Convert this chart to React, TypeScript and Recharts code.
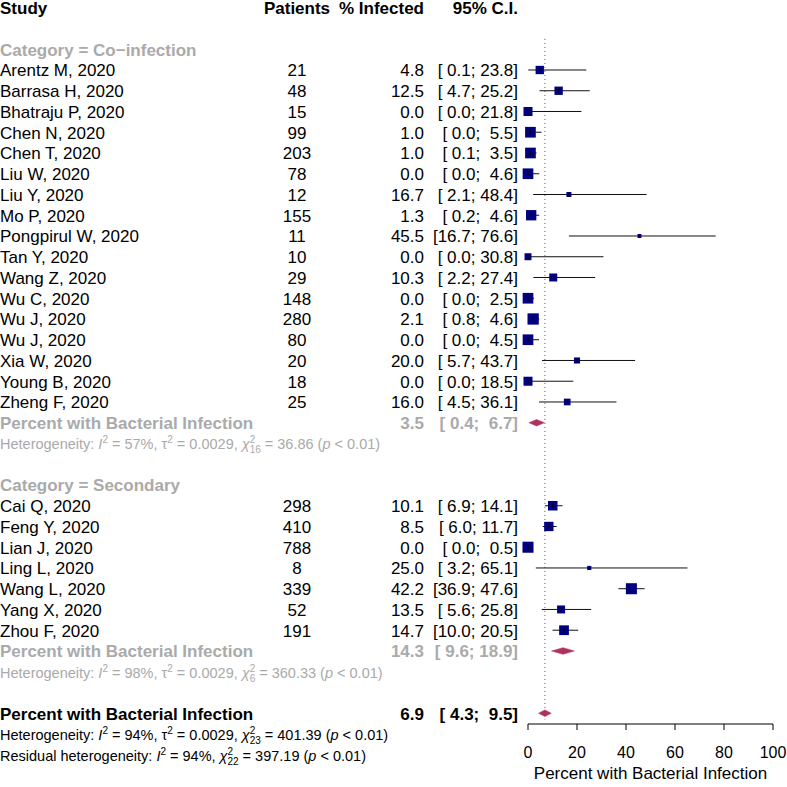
import {
  ReferenceArea,
  ReferenceLine,
  Scatter,
  ScatterChart,
  XAxis,
  YAxis,
  ZAxis,
} from 'recharts';

const FONT = '"Liberation Sans", Arial, Helvetica, sans-serif';
const GREY = '#aaaaaa';
const NAVY = '#000080';
const MAROON = '#b03060';
const ROW_PX = 20.75;

// Category = Co-infection
const coStudies = [
  'Arentz M, 2020', 'Barrasa H, 2020', 'Bhatraju P, 2020', 'Chen N, 2020',
  'Chen T, 2020', 'Liu W, 2020', 'Liu Y, 2020', 'Mo P, 2020',
  'Pongpirul W, 2020', 'Tan Y, 2020', 'Wang Z, 2020', 'Wu C, 2020',
  'Wu J, 2020', 'Wu J, 2020', 'Xia W, 2020', 'Young B, 2020', 'Zheng F, 2020',
];
const coPatients = [21, 48, 15, 99, 203, 78, 12, 155, 11, 10, 29, 148, 280, 80, 20, 18, 25];
const coPercent = [4.8, 12.5, 0.0, 1.0, 1.0, 0.0, 16.7, 1.3, 45.5, 0.0, 10.3, 0.0, 2.1, 0.0, 20.0, 0.0, 16.0];
const coLower = [0.1, 4.7, 0.0, 0.0, 0.1, 0.0, 2.1, 0.2, 16.7, 0.0, 2.2, 0.0, 0.8, 0.0, 5.7, 0.0, 4.5];
const coUpper = [23.8, 25.2, 21.8, 5.5, 3.5, 4.6, 48.4, 4.6, 76.6, 30.8, 27.4, 2.5, 4.6, 4.5, 43.7, 18.5, 36.1];
const coWeight = [3.6, 3.6, 4.2, 5.9, 5.9, 5.9, 1.3, 5.5, 0.8, 2.5, 3.3, 5.9, 6.6, 5.9, 1.9, 4.2, 2.3];
const coSummary = [3.5, 0.4, 6.7];

// Category = Secondary
const secStudies = [
  'Cai Q, 2020', 'Feng Y, 2020', 'Lian J, 2020', 'Ling L, 2020',
  'Wang L, 2020', 'Yang X, 2020', 'Zhou F, 2020',
];
const secPatients = [298, 410, 788, 8, 339, 52, 191];
const secPercent = [10.1, 8.5, 0.0, 25.0, 42.2, 13.5, 14.7];
const secLower = [6.9, 6.0, 0.0, 3.2, 36.9, 5.6, 10.0];
const secUpper = [14.1, 11.7, 0.5, 65.1, 47.6, 25.8, 20.5];
const secWeight = [4.7, 4.5, 6.3, 0.9, 6.3, 3.3, 4.9];
const secSummary = [14.3, 9.6, 18.9];

const overall = [6.9, 4.3, 9.5];

// heterogeneity: co-infection, secondary, overall
const hetI2 = [57, 98, 94];
const hetTau2 = ['0.0029', '0.0029', '0.0029'];
const hetDf = [16, 6, 23];
const hetQ = ['36.86', '360.33', '401.39'];
const residI2 = 94;
const residDf = 22;
const residQ = '397.19';

const xTicks = [0, 20, 40, 60, 80, 100];
const SUMMARY_LABEL = 'Percent with Bacterial Infection';

type Row = {
  x: number;
  y: number;
  kind: 'header' | 'group' | 'study' | 'summary' | 'het' | 'overall';
  label?: string;
  n?: number;
  est?: number;
  lo?: number;
  hi?: number;
  w?: number;
  het?: number;
};

const groups = [
  { label: 'Category = Co\u2212infection', names: coStudies, n: coPatients, est: coPercent, lo: coLower, hi: coUpper, w: coWeight, sum: coSummary, het: 0 },
  { label: 'Category = Secondary', names: secStudies, n: secPatients, est: secPercent, lo: secLower, hi: secUpper, w: secWeight, sum: secSummary, het: 1 },
];

const rows: Row[] = [{ x: 0, y: 0, kind: 'header' }];
let r = 2;
groups.forEach((g) => {
  rows.push({ x: 0, y: r++, kind: 'group', label: g.label });
  g.names.forEach((name, i) => {
    rows.push({
      x: g.est[i], y: r++, kind: 'study', label: name, n: g.n[i],
      est: g.est[i], lo: g.lo[i], hi: g.hi[i], w: g.w[i],
    });
  });
  rows.push({ x: g.sum[0], y: r++, kind: 'summary', label: SUMMARY_LABEL, est: g.sum[0], lo: g.sum[1], hi: g.sum[2] });
  rows.push({ x: 0, y: r++, kind: 'het', het: g.het });
  r++;
});
rows.push({ x: overall[0], y: r, kind: 'overall', label: SUMMARY_LABEL, est: overall[0], lo: overall[1], hi: overall[2], het: 2 });

const studyRows = rows.filter((d) => d.kind === 'study');
const diamondRows = rows.filter((d) => d.kind === 'summary' || d.kind === 'overall');

const fmt = (v: number) => v.toFixed(1);
const ciText = (lo: number, hi: number) => `[${fmt(lo).padStart(4)}; ${fmt(hi).padStart(4)}]`;

function HetLine({ y, prefix, i2, tau2, df, q, color }: {
  y: number; prefix: string; i2: number; tau2?: string; df: number; q: string; color: string;
}) {
  return (
    <text x={0} y={y} fontSize={14.5} fill={color} fontFamily={FONT} style={{ whiteSpace: 'pre' }}>
      <tspan>{prefix}</tspan>
      <tspan fontStyle="italic">I</tspan>
      <tspan fontSize={10} dy={-6}>2</tspan>
      <tspan dy={6}>{` = ${i2}%, `}</tspan>
      {tau2 !== undefined && (
        <>
          <tspan>τ</tspan>
          <tspan fontSize={10} dy={-6}>2</tspan>
          <tspan dy={6}>{` = ${tau2}, `}</tspan>
        </>
      )}
      <tspan fontStyle="italic">χ</tspan>
      <tspan fontSize={10} dy={-6}>2</tspan>
      <tspan fontSize={10} dx={-5.6} dy={10}>{String(df)}</tspan>
      <tspan dy={-4}>{` = ${q} (`}</tspan>
      <tspan fontStyle="italic">p</tspan>
      <tspan>{' < 0.01)'}</tspan>
    </text>
  );
}

function RowText(props: any) {
  const { cy, payload: p } = props;
  const base = cy + 6.5;
  const txt = (x: number, s: string, anchor: 'start' | 'middle' | 'end', color = '#000', bold = false) => (
    <text x={x} y={base} textAnchor={anchor} fill={color} fontSize={17} fontFamily={FONT}
      fontWeight={bold ? 'bold' : 'normal'} style={{ whiteSpace: 'pre' }}>
      {s}
    </text>
  );
  if (p.kind === 'header') {
    return (
      <g>
        {txt(0, 'Study', 'start', '#000', true)}
        {txt(297, 'Patients', 'middle', '#000', true)}
        {txt(424, '% Infected', 'end', '#000', true)}
        {txt(518, '95% C.I.', 'end', '#000', true)}
      </g>
    );
  }
  if (p.kind === 'group') return <g>{txt(0, p.label, 'start', GREY, true)}</g>;
  if (p.kind === 'study') {
    return (
      <g>
        {txt(0, p.label, 'start')}
        {txt(297, String(p.n), 'middle')}
        {txt(424, fmt(p.est), 'end')}
        {txt(518, ciText(p.lo, p.hi), 'end')}
      </g>
    );
  }
  if (p.kind === 'summary') {
    return (
      <g>
        {txt(0, p.label, 'start', GREY, true)}
        {txt(424, fmt(p.est), 'end', GREY, true)}
        {txt(518, ciText(p.lo, p.hi), 'end', GREY, true)}
      </g>
    );
  }
  if (p.kind === 'het') {
    const i = p.het;
    return (
      <HetLine y={cy + 6} prefix="Heterogeneity: " i2={hetI2[i]} tau2={hetTau2[i]} df={hetDf[i]} q={hetQ[i]} color={GREY} />
    );
  }
  // overall row, followed by its heterogeneity lines
  const i = p.het;
  return (
    <g>
      {txt(0, p.label, 'start', '#000', true)}
      {txt(424, fmt(p.est), 'end', '#000', true)}
      {txt(518, ciText(p.lo, p.hi), 'end', '#000', true)}
      <HetLine y={cy + ROW_PX + 6} prefix="Heterogeneity: " i2={hetI2[i]} tau2={hetTau2[i]} df={hetDf[i]} q={hetQ[i]} color="#000" />
      <HetLine y={cy + 2 * ROW_PX + 6} prefix="Residual heterogeneity: " i2={residI2} df={residDf} q={residQ} color="#000" />
    </g>
  );
}

function Box(props: any) {
  const { cx, cy, size, payload } = props;
  const s = Math.sqrt(size ?? payload.w * 19.34);
  return (
    <g>
      <rect x={cx - s / 2} y={cy - s / 2} width={s} height={s} fill={NAVY} />
      <line x1={cx} x2={cx} y1={cy - 2} y2={cy + 2} stroke="#000" />
    </g>
  );
}

function Diamond(props: any) {
  const { x, y, width, height, frac } = props;
  const mx = x + width * frac;
  const my = y + height / 2;
  return (
    <polygon
      points={`${x},${my} ${mx},${y} ${x + width},${my} ${mx},${y + height}`}
      fill={MAROON}
      stroke={MAROON}
      strokeWidth={0.5}
    />
  );
}

export default function App() {
  return (
    <div style={{ position: 'absolute', left: 0, top: 0, background: '#fff' }}>
      <ScatterChart width={787} height={787} margin={{ top: 0, right: 14, bottom: 0, left: 528 }}>
        <XAxis
          type="number"
          dataKey="x"
          domain={[0, 100]}
          ticks={xTicks}
          tickSize={6}
          tickMargin={17}
          height={63}
          stroke="#000"
          tick={{ fill: '#000', fontSize: 16, fontFamily: FONT }}
          label={{ value: 'Percent with Bacterial Infection', position: 'insideBottom', offset: 8, fill: '#000', fontSize: 17, fontFamily: FONT }}
        />
        <YAxis type="number" dataKey="y" domain={[-0.3735, 34.52]} reversed hide />
        <ZAxis type="number" dataKey="w" domain={[0, 7]} range={[0, 135.4]} />
        <ReferenceLine
          segment={[{ x: overall[0], y: 1.5 }, { x: overall[0], y: 34.3 }]}
          stroke="#555"
          strokeDasharray="1 3"
        />
        <Scatter data={rows} shape={RowText} isAnimationActive={false} />
        <Scatter data={studyRows} shape={Box} isAnimationActive={false} />
        {studyRows.map((s, i) => (
          <ReferenceLine
            key={`ci${i}`}
            segment={[{ x: s.lo as number, y: s.y }, { x: s.hi as number, y: s.y }]}
            stroke="#111"
            strokeWidth={1}
          />
        ))}
        {diamondRows.map((d, i) => (
          <ReferenceArea
            key={`dm${i}`}
            x1={d.lo}
            x2={d.hi}
            y1={d.y - 0.16}
            y2={d.y + 0.16}
            shape={(pr: any) => (
              <Diamond {...pr} frac={((d.est as number) - (d.lo as number)) / ((d.hi as number) - (d.lo as number))} />
            )}
          />
        ))}
      </ScatterChart>
    </div>
  );
}
